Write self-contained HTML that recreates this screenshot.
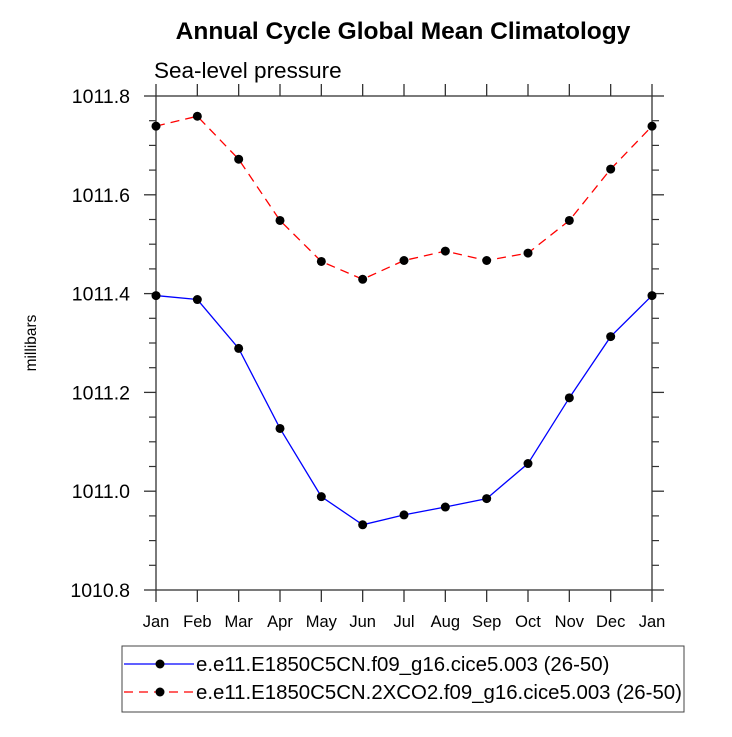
<!DOCTYPE html>
<html><head><meta charset="utf-8"><style>
body{margin:0;background:#fff;}
svg text{font-family:"Liberation Sans",sans-serif;}
</style></head><body>
<svg id="chart" width="732" height="732" viewBox="0 0 732 732" xmlns="http://www.w3.org/2000/svg">
<text x="403" y="39" text-anchor="middle" font-size="24.5" font-weight="bold">Annual Cycle Global Mean Climatology</text>
<text x="154" y="78" font-size="22.5">Sea-level pressure</text>
<text transform="translate(36,343) rotate(-90)" text-anchor="middle" font-size="15.5">millibars</text>
<g id="axes"></g>
<g id="series"></g>
<g>
<rect x="122" y="646" width="562" height="66" fill="none" stroke="#444" stroke-width="1"/>
<g>
<line x1="124" y1="664" x2="194" y2="664" stroke="#0000ff" stroke-width="1.3"/>
<circle cx="160" cy="664" r="4.5" fill="#000"/>
<text x="196" y="671" font-size="20.4">e.e11.E1850C5CN.f09_g16.cice5.003 (26-50)</text>
</g>
<g>
<line x1="124" y1="692" x2="194" y2="692" stroke="#ff0000" stroke-width="1.3" stroke-dasharray="9,6"/>
<circle cx="160" cy="692" r="4.5" fill="#000"/>
<text x="196" y="699" font-size="20.4">e.e11.E1850C5CN.2XCO2.f09_g16.cice5.003 (26-50)</text>
</g>
</g>
</svg>
<script>
const months=["Jan","Feb","Mar","Apr","May","Jun","Jul","Aug","Sep","Oct","Nov","Dec","Jan"];
const controlValues=[1011.396,1011.388,1011.289,1011.127,1010.989,1010.932,1010.952,1010.968,1010.985,1011.056,1011.189,1011.313,1011.396];
const co2Values=[1011.739,1011.759,1011.672,1011.548,1011.465,1011.429,1011.467,1011.486,1011.467,1011.482,1011.548,1011.652,1011.739];
const yTicks=[1010.8,1011.0,1011.2,1011.4,1011.6,1011.8];
const yTickLabels=["1010.8","1011.0","1011.2","1011.4","1011.6","1011.8"];
const X0=156,X1=652,Y0=590,Y1=96,YMIN=1010.8,YMAX=1011.8;
const xs=i=>X0+(X1-X0)*i/(months.length-1);
const ys=v=>Y0-(v-YMIN)/(YMAX-YMIN)*(Y0-Y1);
const NS="http://www.w3.org/2000/svg";
function mk(t,a,p){const e=document.createElementNS(NS,t);for(const k in a)e.setAttribute(k,a[k]);p.appendChild(e);return e;}
const ax=document.getElementById('axes'),se=document.getElementById('series');
const fr=mk('rect',{x:X0,y:Y1,width:X1-X0,height:Y0-Y1,fill:'none',stroke:'#333','stroke-width':1.3},ax);


months.forEach((m,i)=>{
 const x=xs(i);
 mk('line',{x1:x,y1:Y0,x2:x,y2:Y0+12,stroke:'#333','stroke-width':1.3},ax);
 mk('line',{x1:x,y1:Y1,x2:x,y2:Y1-12,stroke:'#333','stroke-width':1.3},ax);
 const t=mk('text',{x:x,y:Y0+37,'text-anchor':'middle','font-size':16.5},ax);
 t.textContent=m;
 
 
});
yTicks.forEach((v,i)=>{
 const y=ys(v);
 mk('line',{x1:X0-12,y1:y,x2:X0,y2:y,stroke:'#333','stroke-width':1.3},ax);
 mk('line',{x1:X1,y1:y,x2:X1+12,y2:y,stroke:'#333','stroke-width':1.3},ax);
 const t=mk('text',{x:X0-26,y:y+7,'text-anchor':'end','font-size':19.5},ax);
 t.textContent=yTickLabels[i];
 
 
 if(i<yTicks.length-1){for(let k=1;k<4;k++){const yy=ys(v+0.05*k);
  mk('line',{x1:X0-7,y1:yy,x2:X0,y2:yy,stroke:'#333','stroke-width':1.2},ax);
  mk('line',{x1:X1,y1:yy,x2:X1+7,y2:yy,stroke:'#333','stroke-width':1.2},ax);}}
});
function series(vals,color,dash,name){
 const pl=mk('polyline',{points:vals.map((v,i)=>xs(i)+','+ys(v)).join(' '),fill:'none',stroke:color,'stroke-width':1.3},se);
 if(dash)pl.setAttribute('stroke-dasharray',dash);
 
 
 vals.forEach((v,i)=>{const c=mk('circle',{cx:xs(i),cy:ys(v),r:4.5,fill:'#000'},se);
  
  });
}
series(co2Values,'#ff0000','9,6','co2');
series(controlValues,'#0000ff',null,'control');
</script>
</body></html>
